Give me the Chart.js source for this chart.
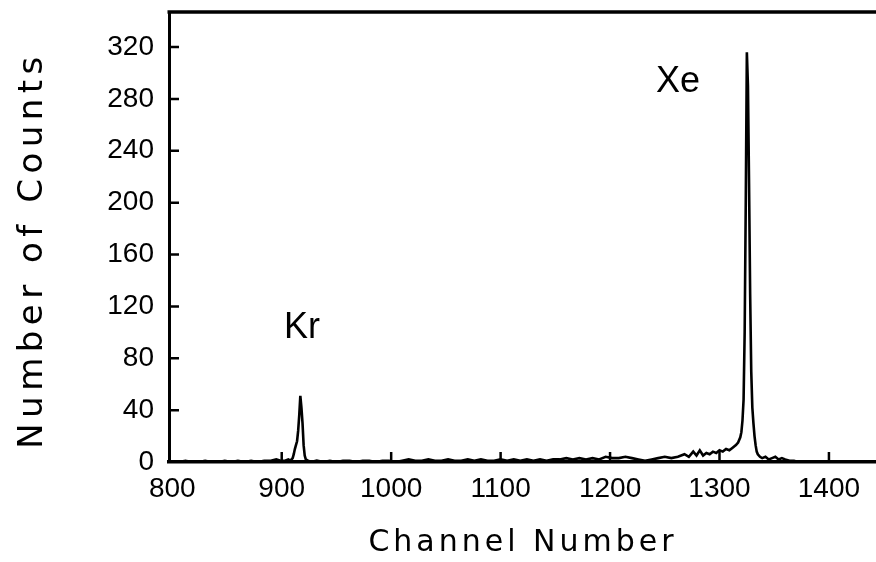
<!DOCTYPE html>
<html>
<head>
<meta charset="utf-8">
<title>Channel spectrum</title>
<script src="https://cdn.jsdelivr.net/npm/chart.js@4.4.0/dist/chart.umd.min.js"></script>
<style>
  html, body { margin: 0; padding: 0; background: #fff; }
  #wrap { width: 876px; height: 562px; position: relative; }
</style>
</head>
<body>
<div id="wrap"><canvas id="spectrum"></canvas></div>
<script>
// channel number / counts
const channels = [
  800, 806, 812, 818, 824, 830, 836, 842, 848, 854, 860, 866, 872, 878, 884, 890, 895, 899,
  903, 906, 908, 910, 911, 912, 913, 914, 915, 916, 917, 918, 919, 920, 921, 922, 924, 927,
  932, 938, 944, 950, 956, 962, 968, 974, 980, 986, 992, 998, 1004, 1010, 1016, 1022, 1028,
  1034, 1040, 1046, 1052, 1058, 1064, 1070, 1076, 1082, 1088, 1094, 1100, 1106, 1112, 1118,
  1124, 1130, 1136, 1142, 1148, 1154, 1160, 1166, 1172, 1178, 1184, 1190, 1196, 1202, 1208,
  1214, 1220, 1226, 1232, 1238, 1244, 1250, 1256, 1262, 1268, 1272, 1276, 1279, 1282, 1285,
  1288, 1291, 1294, 1297, 1300, 1303, 1306, 1309, 1312, 1315, 1317, 1319, 1320, 1321, 1322,
  1323, 1324, 1325, 1326, 1327, 1328, 1329, 1330, 1331, 1332, 1333, 1334, 1335, 1337, 1339,
  1342, 1345, 1348, 1351, 1354, 1357, 1360, 1364, 1368, 1372, 1380, 1390, 1400, 1410, 1420,
  1430, 1443
];
const counts = [
  0, 0, 1, 0, 0, 1, 0, 0, 1, 0, 1, 0, 1, 0, 1, 1, 2, 1,
  1, 2, 1, 3, 6, 10, 13, 16, 24, 36, 51, 42, 30, 13, 5, 2, 1, 0,
  1, 0, 1, 0, 1, 1, 0, 1, 1, 0, 1, 1, 0, 1, 2, 1, 1,
  2, 1, 1, 2, 1, 1, 2, 1, 2, 1, 1, 2, 1, 2, 1,
  2, 1, 2, 1, 2, 2, 3, 2, 3, 2, 3, 2, 4, 3, 3,
  4, 3, 2, 1, 2, 3, 4, 3, 4, 6, 4, 8, 5, 9, 5,
  7, 6, 8, 7, 9, 8, 10, 9, 11, 13, 15, 19, 23, 32, 48,
  100, 200, 316, 290, 215, 130, 70, 42, 30, 20, 13, 8, 6, 4, 3,
  4, 2, 3, 4, 2, 3, 2, 1, 1, 0, 0, 0, 0, 0, 0,
  0, 0
];

const xTicks = [800, 900, 1000, 1100, 1200, 1300, 1400];
const yTicks = [0, 40, 80, 120, 160, 200, 240, 280, 320];

const peakNames = ['Kr', 'Xe'];
const peakLabelAt = [[902, 96], [1242, 285]];   // channel, counts of the label's baseline-left corner

const FONT = "'Liberation Sans', Arial, sans-serif";
const TITLE_FONT = "'DejaVu Sans', sans-serif";

// frame line on top, inward tick marks, peak names and axis titles
const decorations = {
  id: 'decorations',
  afterDraw(chart) {
    const { ctx, chartArea: a, scales: { x, y } } = chart;
    ctx.save();
    ctx.strokeStyle = '#000';
    ctx.lineWidth = 3.5;
    ctx.beginPath();
    ctx.moveTo(a.left - 1.5, a.top);
    ctx.lineTo(a.right, a.top);
    ctx.stroke();

    ctx.lineWidth = 2.5;
    ctx.beginPath();
    xTicks.slice(1).forEach(v => {
      const px = x.getPixelForValue(v);
      ctx.moveTo(px, a.bottom);
      ctx.lineTo(px, a.bottom - 10);
    });
    yTicks.slice(1).forEach(v => {
      const py = y.getPixelForValue(v);
      ctx.moveTo(a.left, py);
      ctx.lineTo(a.left + 10, py);
    });
    ctx.stroke();

    ctx.fillStyle = '#000';
    ctx.textAlign = 'left';
    ctx.textBaseline = 'alphabetic';
    ctx.font = '36px ' + FONT;
    peakNames.forEach((name, i) => {
      const [cx, cy] = peakLabelAt[i];
      ctx.fillText(name, x.getPixelForValue(cx), y.getPixelForValue(cy));
    });

    ctx.textAlign = 'center';
    ctx.letterSpacing = '4px';
    ctx.font = '30px ' + TITLE_FONT;
    ctx.fillText('Channel Number', 523, 551);

    ctx.letterSpacing = '5.5px';
    ctx.font = '34px ' + TITLE_FONT;
    ctx.translate(42, 250);
    ctx.rotate(-Math.PI / 2);
    ctx.fillText('Number of Counts', 0, 0);
    ctx.restore();
  }
};

new Chart(document.getElementById('spectrum'), {
  type: 'line',
  data: {
    datasets: [{
      data: channels.map((c, i) => ({ x: c, y: counts[i] })),
      borderColor: '#000',
      borderWidth: 2.6,
      pointRadius: 0,
      tension: 0,
      fill: false
    }]
  },
  options: {
    responsive: true,
    maintainAspectRatio: false,
    animation: false,
    events: [],
    layout: { padding: { top: 12, right: 0, left: 0, bottom: 0 } },
    plugins: { legend: { display: false }, tooltip: { enabled: false } },
    scales: {
      x: {
        type: 'linear',
        min: 797,
        max: 1443,
        afterBuildTicks: s => { s.ticks = xTicks.map(v => ({ value: v })); },
        afterFit: s => { s.height = 100; s.paddingLeft = 0; s.paddingRight = 0; },
        grid: { display: false, drawTicks: false },
        border: { display: true, color: '#000', width: 3.5 },
        ticks: {
          color: '#000',
          padding: 10,
          maxRotation: 0,
          callback: v => String(v),
          font: { family: FONT, size: 28 }
        }
      },
      y: {
        min: 0,
        max: 347,
        afterBuildTicks: s => { s.ticks = yTicks.map(v => ({ value: v })); },
        afterFit: s => { s.width = 169; s.paddingTop = 0; s.paddingBottom = 0; },
        grid: { display: false, drawTicks: false },
        border: { display: true, color: '#000', width: 3 },
        ticks: {
          color: '#000',
          padding: 15,
          callback: v => String(v),
          font: { family: FONT, size: 28 }
        }
      }
    }
  },
  plugins: [decorations]
});
</script>
</body>
</html>
